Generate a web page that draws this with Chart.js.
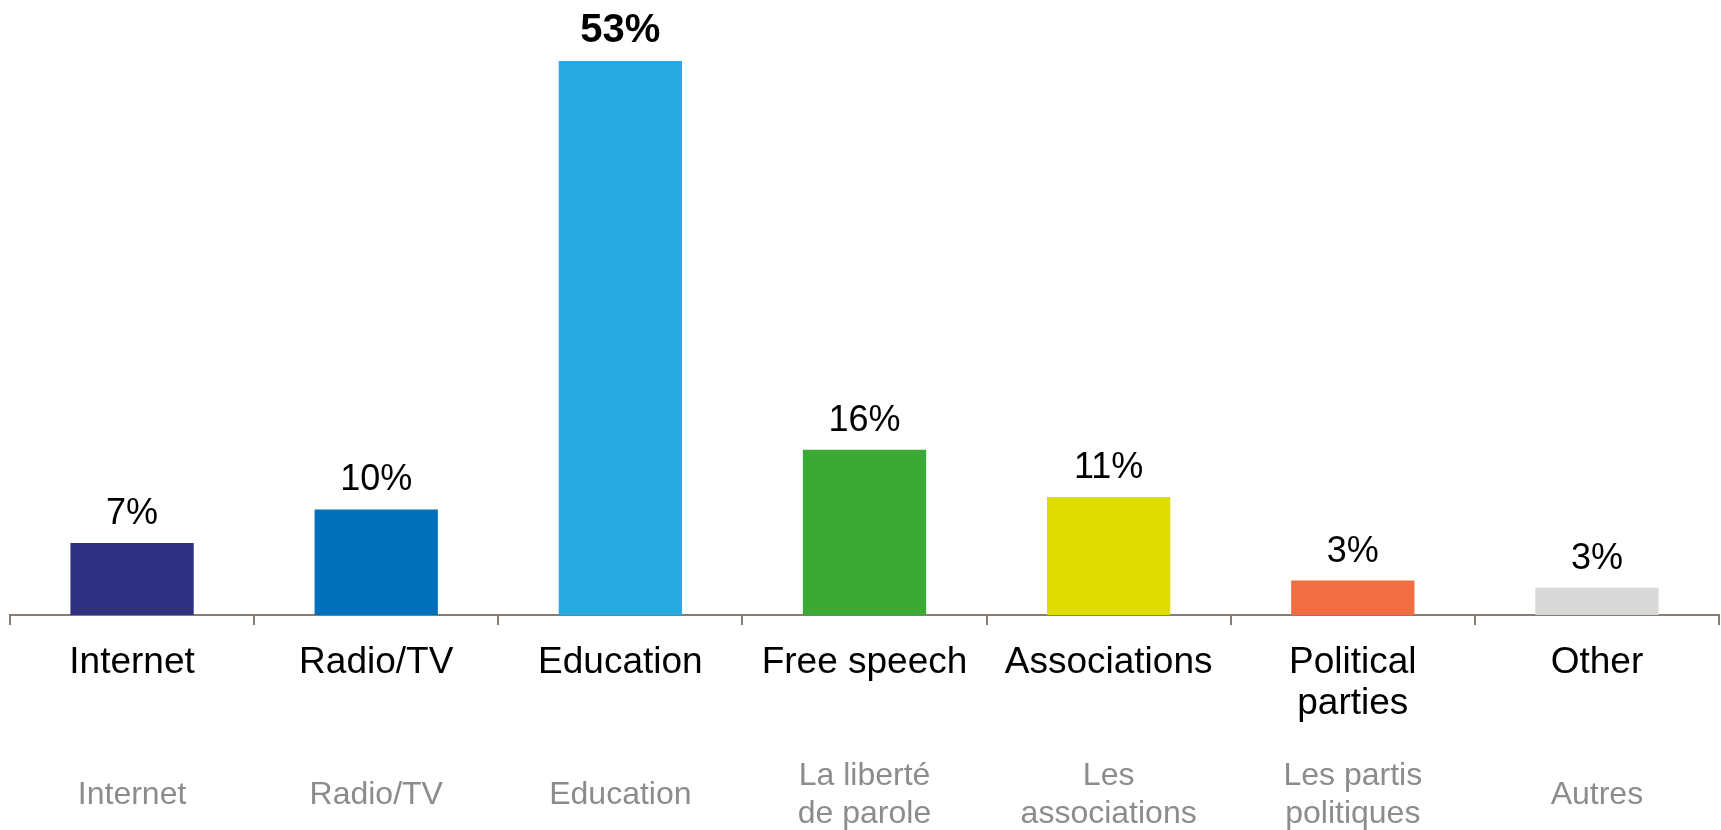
<!DOCTYPE html>
<html>
<head>
<meta charset="utf-8">
<script src="https://cdn.jsdelivr.net/npm/chart.js@4"></script>
<style>
  body { margin: 0; background: #fff; }
  #wrap { width: 1721px; height: 830px; }
</style>
</head>
<body>
<div id="wrap"><canvas id="myChart"></canvas></div>
<script>
// categories (english + french subtitle)
var categories = ['Internet', 'Radio/TV', 'Education', 'Free speech', 'Associations', ['Political', 'parties'], 'Other'];
var frenchLabels = ['Internet', 'Radio/TV', 'Education', ['La liberté', 'de parole'], ['Les', 'associations'], ['Les partis', 'politiques'], 'Autres'];
// values
var shares = [6.9, 10.1, 53, 15.8, 11.3, 3.3, 2.6];
// printed labels above the bars
var shareLabels = ['7%', '10%', '53%', '16%', '11%', '3%', '3%'];
var barColors = ['#2e3081', '#0070ba', '#29a9e1', '#3aaa35', '#dfdd00', '#f26d42', '#d9d9d9'];

var axisColor = '#857d6e';

// draws the % labels on top of each bar
var valueLabels = {
    id: 'valueLabels',
    afterDatasetsDraw: function (chart) {
        var ctx = chart.ctx;
        var meta = chart.getDatasetMeta(0);
        var maxVal = Math.max.apply(null, shares);
        ctx.save();
        ctx.textAlign = 'center';
        ctx.textBaseline = 'alphabetic';
        ctx.fillStyle = '#000';
        meta.data.forEach(function (bar, i) {
            if (shares[i] === maxVal) {
                ctx.font = 'bold 40px "Liberation Sans", Arial, sans-serif';
            } else {
                ctx.font = '36px "Liberation Sans", Arial, sans-serif';
            }
            ctx.fillText(shareLabels[i], bar.x, bar.y - 19);
        });
        ctx.restore();
    }
};

var ctx = document.getElementById('myChart').getContext('2d');
var chart = new Chart(ctx, {
    type: 'bar',
    data: {
        labels: categories,
        datasets: [{
            data: shares,
            backgroundColor: barColors,
            borderWidth: 0,
            barPercentage: 0.505,
            categoryPercentage: 1
        }]
    },
    options: {
        responsive: true,
        maintainAspectRatio: false,
        animation: false,
        layout: { padding: { left: 10, right: 2, top: 61, bottom: 0 } },
        plugins: {
            legend: { display: false },
            tooltip: { enabled: false }
        },
        scales: {
            y: { display: false, min: 0, max: 53 },
            x: {
                weight: 0,
                grid: {
                    offset: true,
                    drawOnChartArea: false,
                    drawTicks: true,
                    tickLength: 10,
                    color: axisColor,
                    lineWidth: 2
                },
                border: { display: true, color: axisColor, width: 2 },
                ticks: {
                    color: '#000',
                    font: { family: '"Liberation Sans", Arial, sans-serif', size: 37, lineHeight: 41 / 37 },
                    padding: 17,
                    autoSkip: false,
                    maxRotation: 0,
                    minRotation: 0
                },
                afterFit: function (scale) { scale.height = 130; }
            },
            x2: {
                type: 'category',
                position: 'bottom',
                weight: 1,
                labels: frenchLabels,
                grid: { display: false, drawTicks: false },
                border: { display: false },
                ticks: {
                    color: '#8c8c8c',
                    font: { family: '"Liberation Sans", Arial, sans-serif', size: 32, lineHeight: 38.5 / 32 },
                    padding: 31,
                    crossAlign: 'center',
                    autoSkip: false,
                    maxRotation: 0,
                    minRotation: 0
                },
                afterFit: function (scale) { scale.height = 85; }
            }
        }
    },
    plugins: [valueLabels]
});
</script>
</body>
</html>
